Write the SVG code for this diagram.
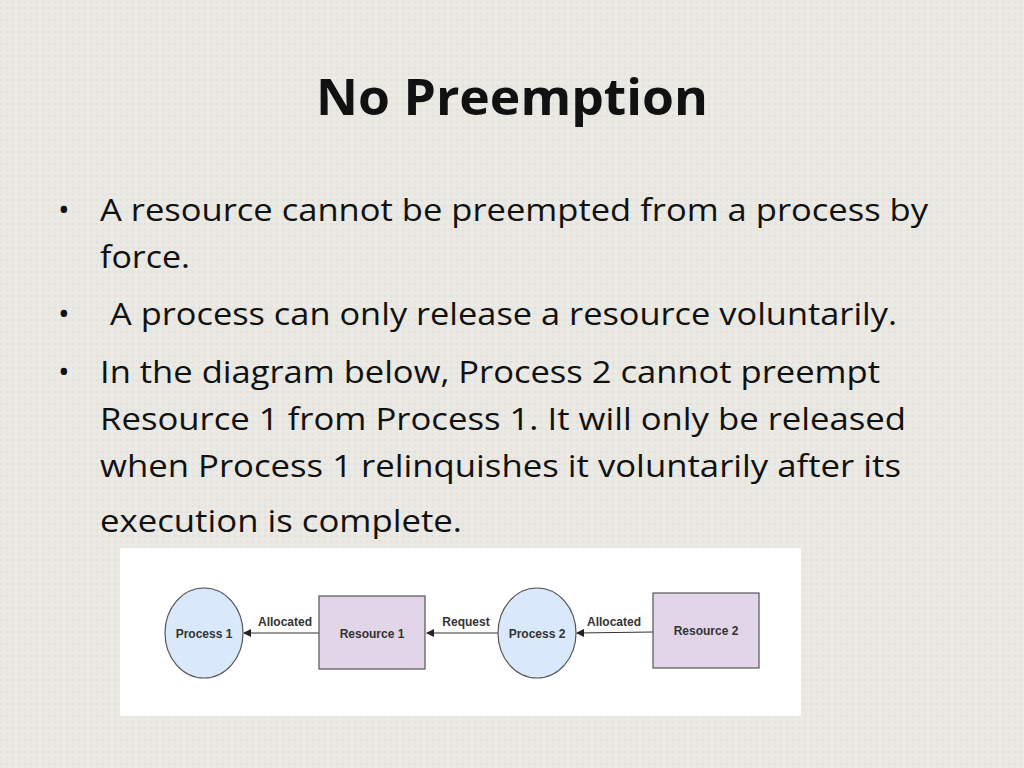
<svg xmlns="http://www.w3.org/2000/svg" width="1024" height="768" viewBox="0 0 1024 768">
<defs>
<pattern id="tex" width="6" height="6" patternUnits="userSpaceOnUse"><rect width="6" height="6" fill="#e9e8e3"/><circle cx="1" cy="2" r="0.8" fill="#d8d7d1"/><circle cx="4" cy="5" r="0.7" fill="#f4f3ef"/></pattern>
<marker id="ah" markerWidth="8" markerHeight="8" refX="7" refY="4" orient="auto" markerUnits="userSpaceOnUse"><path d="M0,0 L8,4 L0,8 Z" fill="#222"/></marker>
<style>
.t{font-family:"Open Sans","Liberation Sans",sans-serif;font-size:31px;fill:#111}
.p{fill:#dae8fc;stroke:#555;stroke-width:1.2}
.r{fill:#e1d5e7;stroke:#555;stroke-width:1.2}
.n{font-family:"Liberation Sans",Arial,sans-serif;font-size:12px;font-weight:bold;fill:#333;text-anchor:middle}
.e{stroke:#333;stroke-width:1.2;fill:none}
</style>
</defs>
<rect width="1024" height="768" fill="url(#tex)"/>
<text x="316" y="115" textLength="392" lengthAdjust="spacingAndGlyphs" font-family="'Open Sans','Liberation Sans',sans-serif" font-weight="bold" font-size="50" fill="#111">No Preemption</text>
<g class="t">
<text x="58" y="221">•</text><text x="100" y="221" textLength="828" lengthAdjust="spacingAndGlyphs">A resource cannot be preempted from a process by</text>
<text x="100" y="268" textLength="90" lengthAdjust="spacingAndGlyphs">force.</text>
<text x="58" y="325">•</text><text x="110" y="325" textLength="787" lengthAdjust="spacingAndGlyphs">A process can only release a resource voluntarily.</text>
<text x="58" y="383">•</text><text x="100" y="383" textLength="780" lengthAdjust="spacingAndGlyphs">In the diagram below, Process 2 cannot preempt</text>
<text x="100" y="430" textLength="806" lengthAdjust="spacingAndGlyphs">Resource 1 from Process 1. It will only be released</text>
<text x="100" y="477" textLength="801" lengthAdjust="spacingAndGlyphs">when Process 1 relinquishes it voluntarily after its</text>
<text x="100" y="532" textLength="362" lengthAdjust="spacingAndGlyphs">execution is complete.</text>
</g>
<rect x="120" y="548" width="681" height="168" fill="#fff"/>
<g id="connectors">
<line class="e" x1="319" y1="633" x2="244" y2="633" marker-end="url(#ah)"/>
<line class="e" x1="498" y1="633" x2="427" y2="633" marker-end="url(#ah)"/>
<line class="e" x1="653" y1="632" x2="577" y2="633" marker-end="url(#ah)"/>
<text class="n" x="285" y="626" font-weight="normal">Allocated</text>
<text class="n" x="466" y="626" font-weight="normal">Request</text>
<text class="n" x="614" y="626" font-weight="normal">Allocated</text>
</g>
<g id="process1"><ellipse class="p" cx="204" cy="633" rx="39" ry="45"/><text class="n" x="204" y="638">Process 1</text></g>
<g id="resource1"><rect class="r" x="319" y="596" width="106" height="73"/><text class="n" x="372" y="638">Resource 1</text></g>
<g id="process2"><ellipse class="p" cx="537" cy="633" rx="39" ry="45"/><text class="n" x="537" y="638">Process 2</text></g>
<g id="resource2"><rect class="r" x="653" y="593" width="106" height="75"/><text class="n" x="706" y="635">Resource 2</text></g>
</svg>
